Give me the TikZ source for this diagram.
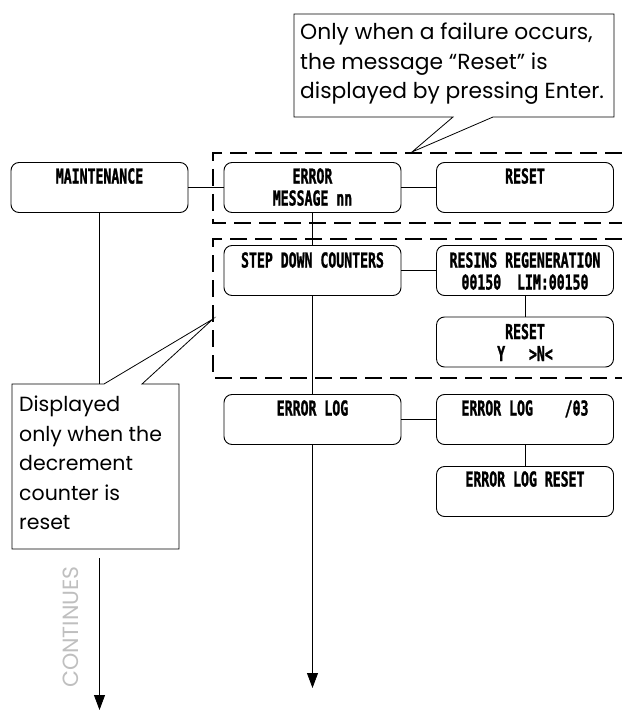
\documentclass[tikz,border=0pt]{standalone}
\usepackage{fontspec}
\setmainfont{Poppins}
\newfontfamily\lcd[FakeStretch=0.64,FakeBold=1.2]{DejaVu Sans Mono}
\usetikzlibrary{arrows.meta}
\tikzset{
  panel/.style={draw, line width=0.9pt, rounded corners=8pt, minimum width=177pt,
    minimum height=50pt, inner sep=0pt, fill=white},
  ptext/.style={anchor=north, inner sep=0pt, align=center,
    font=\lcd\bfseries\fontsize{20.6}{22}\selectfont},
  conn/.style={line width=0.8pt},
  groupbox/.style={line width=2.2pt, dash pattern=on 17pt off 8pt},
  callout/.style={draw, line width=0.8pt, fill=white},
  ctext/.style={inner sep=0pt, align=left, font=\fontsize{20.5}{29.5}\selectfont},
  arr/.style={line width=0.8pt, -{Triangle[length=15pt,width=11pt]}},
}
\begin{document}
\begin{tikzpicture}[x=1pt,y=-1pt]
\useasboundingbox (0,0) rectangle (621,711);

% dashed groups
\draw[groupbox] (622,153) -- (213,153) -- (213,223) -- (622,223);
\draw[groupbox] (622,239) -- (213,239) -- (213,378) -- (622,378);

% panels
\node[panel] (maint) at (99.5,187.5) {};
\node[panel] (err)   at (312.5,187.5) {};
\node[panel] (rst1)  at (525,187.5) {};
\node[panel] (step)  at (312.5,270.5) {};
\node[panel] (resin) at (525,270.5) {};
\node[panel] (rst2)  at (525,342) {};
\node[panel] (elog)  at (312.5,419.5) {};
\node[panel] (elog3) at (525,419.5) {};
\node[panel] (elogr) at (525,491.5) {};

\node[ptext] (tmaint) at ([yshift=-6pt]maint.north) {MAINTENANCE};
\node[ptext] (terr)   at ([yshift=-6pt]err.north) {ERROR\\MESSAGE nn};
\node[ptext] (trst1)  at ([yshift=-6pt]rst1.north) {RESET};
\node[ptext] (tstep)  at ([yshift=-7pt]step.north) {STEP DOWN COUNTERS};
\node[ptext] (tresin) at ([yshift=-7pt]resin.north) {RESINS REGENERATION\\00150\ \ LIM:00150};
\node[ptext] (trst2)  at ([yshift=-7pt]rst2.north) {RESET\\Y\ \ \ >N<};
\node[ptext] (telog)  at ([yshift=-6pt]elog.north) {ERROR LOG};
\node[ptext] (telog3) at ([yshift=-6pt]elog3.north) {ERROR LOG\ \ \ \ /03};
\node[ptext] (telogr) at ([yshift=-5pt]elogr.north) {ERROR LOG RESET};

% connectors
\draw[conn] (maint.east) -- (err.west);
\draw[conn] (err.east) -- (rst1.west);
\draw[conn] (err.south) -- (step.north);
\draw[conn] (step.east) -- (resin.west);
\draw[conn] (resin.south) -- (rst2.north);
\draw[conn] (step.south) -- (elog.north);
\draw[conn] (elog.east) -- (elog3.west);
\draw[conn] (elog3.south) -- (elogr.north);
\coordinate (mend) at (312.5,688);
\draw[arr] (elog.south) -- (mend);

% left callout
\coordinate (lctop) at (99.5,384);
\draw[conn] (maint.south) -- (lctop);
\draw[callout] (12,384) -- (104,384) -- (213,319) -- (142,384) -- (179,384)
   -- (179,549) -- (12,549) -- cycle;
\node[ctext, anchor=north west] (lct) at (19,396)
  {Displayed\\only when the\\decrement\\counter is\\reset};

% top callout
\draw[callout] (294,14) -- (614,14) -- (614,117) -- (493,117) -- (412,152)
   -- (453,117) -- (294,117) -- cycle;
\node[ctext, anchor=north west, font=\fontsize{21.8}{29.5}\selectfont] (tct) at (300,23)
  {Only when a failure occurs,\\the message “Reset” is\\displayed by pressing Enter.};

% continues arrow
\coordinate (cstart) at (99.5,558);
\coordinate (cend) at (99.5,710);
\draw[arr] (cstart) -- (cend);
\node[rotate=90, text=black!25, inner sep=0pt, font=\fontsize{22}{22}\selectfont] (cont) at (71,627) {CONTINUES};
\end{tikzpicture}
\end{document}
